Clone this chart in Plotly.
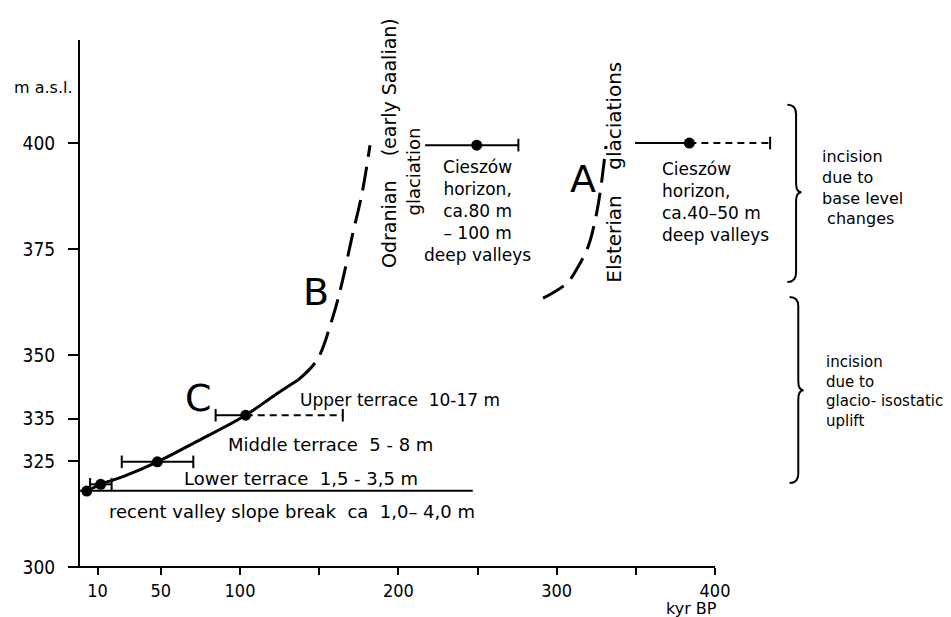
import plotly.graph_objects as go

# ── Data (kyr BP / m a.s.l.) ─────────────────────────────────────────────────
# C: solid incision curve through the dated terraces
curve_c_x = [3.2, 12.0, 26.1, 47.8, 74.7, 103.6, 121.0, 136.6]
curve_c_y = [317.9, 319.5, 321.3, 324.8, 330.0, 335.8, 340.3, 344.1]

# B: dashed continuation up to the Odranian glaciation
curve_b_x = [136.6, 148.6, 158.1, 164.4, 170.7, 177.1, 182.1]
curve_b_y = [344.1, 348.8, 358.3, 367.0, 377.8, 388.2, 399.5]

# A: dashed segment below the Elsterian glaciation
curve_a_x = [291.4, 306.6, 313.5, 319.8, 324.3, 327.4, 329.3, 331.2]
curve_a_y = [363.4, 367.0, 370.8, 375.5, 381.8, 388.2, 393.6, 399.3]

# dated levels and their age ranges
dot_x = [3.2, 12.0, 47.8, 103.6, 249.5, 383.8]
dot_y = [317.9, 319.5, 324.8, 335.8, 399.5, 400.0]
range_lo = [None, 5.3, 25.3, 84.6, 216.9, 349.5]
range_hi = [None, 18.9, 70.5, 103.6, 275.8, 383.8]
dashed_hi = [None, None, None, 164.9, None, 434.8]
cap_lo = [False, True, True, True, False, False]

# recent valley slope break
break_y = 318.0
break_end = 247.0

# braces on the right: top, tip, bottom
brace_top = [409.0, 363.7]
brace_tip = [388.4, 341.7]
brace_bottom = [367.2, 319.8]
brace_x = [451.2, 452.6]

x_ticks = [10, 50, 100, 150, 200, 250, 300, 350, 400]
x_ticktext = ["10", "50", "100", "", "200", "", "300", "", "400"]
y_ticks = [300, 325, 335, 350, 375, 400]

X_RANGE = [-1.07, 549.05]
Y_RANGE = [300, 424.3]
FONT = "DejaVu Sans"
TICK_FONT = "Liberation Sans Narrow, DejaVu Sans Condensed, Liberation Sans"
INK = "black"

# the page body adds an 8px offset; compensate so the plot sits where it should
PAGE_OFFSET = 8
PLOT_W, PLOT_H = 871, 527


def brace_path(x, top, tip, bottom, w=5.5, tw=3.4, d=2.2):
    return (f"M {x - w},{top} Q {x},{top} {x},{top - d} "
            f"L {x},{tip + d} Q {x},{tip} {x + tw},{tip} "
            f"Q {x},{tip} {x},{tip - d} "
            f"L {x},{bottom + d} Q {x},{bottom} {x - w},{bottom}")


fig = go.Figure()

fig.add_trace(go.Scatter(
    x=[X_RANGE[0], break_end], y=[break_y, break_y], mode="lines",
    line=dict(color=INK, width=2), hoverinfo="skip"))

fig.add_trace(go.Scatter(
    x=curve_c_x, y=curve_c_y, mode="lines",
    line=dict(color=INK, width=3, shape="spline"), hoverinfo="skip"))
fig.add_trace(go.Scatter(
    x=curve_b_x, y=curve_b_y, mode="lines",
    line=dict(color=INK, width=3, shape="spline", dash="24px,10px"),
    hoverinfo="skip"))
fig.add_trace(go.Scatter(
    x=curve_a_x, y=curve_a_y, mode="lines",
    line=dict(color=INK, width=3, shape="spline", dash="24px,10px"),
    hoverinfo="skip"))

# age ranges
cap_x, cap_y = [], []
for xd, yd, lo, hi, dh, cl in zip(dot_x, dot_y, range_lo, range_hi,
                                  dashed_hi, cap_lo):
    if lo is not None:
        fig.add_trace(go.Scatter(
            x=[lo, hi], y=[yd, yd], mode="lines",
            line=dict(color=INK, width=2), hoverinfo="skip"))
        if cl:
            cap_x.append(lo)
            cap_y.append(yd)
        if hi != xd:
            cap_x.append(hi)
            cap_y.append(yd)
    if dh is not None:
        fig.add_trace(go.Scatter(
            x=[xd, dh], y=[yd, yd], mode="lines",
            line=dict(color=INK, width=2, dash="7px,5px"), hoverinfo="skip"))
        cap_x.append(dh)
        cap_y.append(yd)

fig.add_trace(go.Scatter(
    x=cap_x, y=cap_y, mode="markers",
    marker=dict(symbol="line-ns", size=9, line=dict(color=INK, width=2)),
    hoverinfo="skip"))
fig.add_trace(go.Scatter(
    x=dot_x, y=dot_y, mode="markers",
    marker=dict(symbol="circle", size=11, color=INK), hoverinfo="skip"))

# braces
for bx, bt, bm, bb in zip(brace_x, brace_top, brace_tip, brace_bottom):
    fig.add_shape(type="path", xref="x", yref="y",
                  path=brace_path(bx, bt, bm, bb),
                  line=dict(color=INK, width=2))

# x axis line (overhangs the y axis a little, stops at 400)
x1_paper = (400 - X_RANGE[0]) / (X_RANGE[1] - X_RANGE[0])
fig.add_shape(type="line", xref="paper", yref="paper",
              x0=-10 / PLOT_W, x1=x1_paper, y0=0, y1=0,
              line=dict(color=INK, width=2))


def note(text, x, y, size=18, **kw):
    kw.setdefault("yanchor", "middle")
    fig.add_annotation(text=text, x=x, y=y, showarrow=False,
                       font=dict(family=FONT, size=size, color=INK), **kw)


note("recent valley slope break  ca  1,0– 4,0 m", 15.8, 313.0,
     xanchor="left")
note("Lower terrace  1,5 - 3,5 m", 63.2, 320.9, xanchor="left")
note("Middle terrace  5 - 8 m", 91.2, 328.8, xanchor="left")
note("Upper terrace  10-17 m", 136.8, 339.4, size=17, xanchor="left")

note("C", 73.5, 339.9, size=38)
note("B", 148.0, 364.9, size=38)
note("A", 316.7, 391.6, size=38)

note("Odranian    (early Saalian)", 193.7, 400.1, size=19, textangle=-90)
note("glaciation", 209.3, 393.3, textangle=-90)
note("Elsterian    glaciations", 336.2, 393.0, size=20, textangle=-90)

note("Cieszów<br>horizon,<br>ca.80 m<br>– 100 m<br>deep valleys",
     249.7, 383.9, size=17, align="center")
note("Cieszów<br>horizon,<br>ca.40–50 m<br>deep valleys",
     365.1, 386.2, size=17, xanchor="left", align="left")

note("incision<br>due to<br>base level<br>\u00a0changes",
     466.4, 389.5, size=16, xanchor="left", align="left")
note("incision<br>due to<br>glacio- isostatic<br>uplift",
     468.9, 341.3, size=15, xanchor="left", align="left")

note("m a.s.l.", -0.078, 0.909, size=16, xref="paper", yref="paper",
     xanchor="left")
note("kyr BP", 385.3, -0.078, size=16, yref="paper")

fig.update_layout(
    width=80 + PLOT_W - PAGE_OFFSET, height=40 + PLOT_H + 50 - PAGE_OFFSET,
    margin=dict(l=80 - PAGE_OFFSET, r=0, t=40 - PAGE_OFFSET, b=50),
    paper_bgcolor="white", plot_bgcolor="white",
    font=dict(family=FONT, color=INK, size=16),
    showlegend=False,
    xaxis=dict(range=X_RANGE, tickvals=x_ticks, ticktext=x_ticktext,
               ticks="outside", ticklen=7, tickwidth=2, tickcolor=INK,
               showgrid=False, zeroline=False, showline=False,
               tickfont=dict(family=TICK_FONT, size=18)),
    yaxis=dict(range=Y_RANGE, tickvals=y_ticks, ticks="outside",
               ticklen=10, tickwidth=2, tickcolor=INK, ticklabelstandoff=9,
               showgrid=False, zeroline=False, showline=True,
               linewidth=2, linecolor=INK,
               tickfont=dict(family=TICK_FONT, size=19)),
)

fig.write_html("out.html")
